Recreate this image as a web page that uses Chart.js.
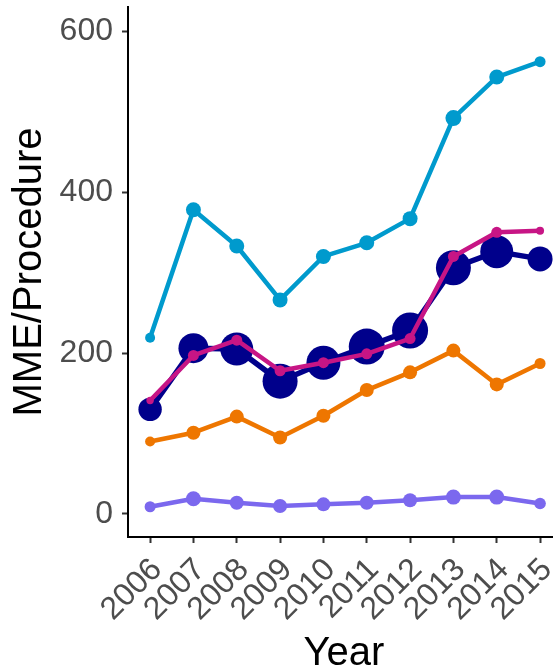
<!DOCTYPE html>
<html>
<head>
<meta charset="utf-8">
<script src="https://cdn.jsdelivr.net/npm/chart.js@4.4.1/dist/chart.umd.min.js"></script>
<style>
  html, body { margin: 0; padding: 0; background: #ffffff; }
  #wrap { width: 553px; height: 669px; position: relative; }
</style>
</head>
<body>
<div id="wrap"><canvas id="chart"></canvas></div>
<script>
// Categories and tick labels
const years = ['2006', '2007', '2008', '2009', '2010', '2011', '2012', '2013', '2014', '2015'];
const yTicks = [0, 200, 400, 600];

// MME per procedure, one array per series
const tealValues    = [219, 378, 333, 266, 320, 337, 367, 492, 543, 562];
const magentaValues = [141, 197, 216, 178, 188, 199, 218, 320, 350, 352];
const navyValues    = [130, 206, 205, 165, 188, 208, 228, 306, 326, 317];
const orangeValues  = [90, 101, 121, 95, 122, 154, 176, 203, 161, 187];
const purpleValues  = [9, 19, 14, 10, 12, 14, 17, 21, 21, 13];

const FONT = "'Liberation Sans', Arial, sans-serif";

function toPoints(values) {
  return values.map((v, i) => ({ x: i, y: v }));
}

function lineSeries(label, values, color, width, radii) {
  return {
    label: label,
    data: toPoints(values),
    borderColor: color,
    backgroundColor: color,
    borderWidth: width,
    borderJoinStyle: 'round',
    borderCapStyle: 'round',
    pointBackgroundColor: color,
    pointBorderWidth: 0,
    pointRadius: radii,
    pointHoverRadius: radii,
    tension: 0,
    fill: false
  };
}

// Labels may overhang the plot edges; keep the plot box fixed.
function clearPadding(scale) {
  scale.paddingTop = 0;
  scale.paddingBottom = 0;
  scale.paddingLeft = 0;
  scale.paddingRight = 0;
}

// Panel box: starts 7px below the top and runs a few pixels past the right edge.
const PANEL_TOP = 7;
const PANEL_OVERHANG = 7;
const panelExtend = {
  id: 'panelExtend',
  afterLayout(chart) {
    const area = chart.chartArea;
    const xs = chart.scales.x;
    const ys = chart.scales.y;
    area.right = chart.width + PANEL_OVERHANG;
    area.width = area.right - area.left;
    area.top = PANEL_TOP;
    area.height = area.bottom - area.top;
    xs.right = area.right;
    xs.width = xs.right - xs.left;
    xs.configure();
    ys.top = area.top;
    ys.height = ys.bottom - ys.top;
    ys.configure();
  }
};

const axisGrid = {
  display: true,
  drawOnChartArea: false,
  drawTicks: true,
  tickLength: 6,
  tickWidth: 2,
  tickColor: '#333333'
};
const axisBorder = { display: true, color: '#000000', width: 2 };

new Chart(document.getElementById('chart'), {
  type: 'line',
  plugins: [panelExtend],
  data: {
    datasets: [
      lineSeries('Magenta', magentaValues, '#C71585', 4.5, [3.7, 5.5, 5.5, 5.5, 5.5, 5.5, 5.5, 5.5, 5.5, 4]),
      lineSeries('Navy', navyValues, '#00008B', 5.5, [11.7, 15, 16.5, 17.5, 17, 18, 18, 17.5, 16.5, 12.5]),
      lineSeries('Teal', tealValues, '#009ACD', 4.5, [5, 7.5, 7.5, 7.5, 7.5, 7.5, 7.5, 8, 7.5, 5.5]),
      lineSeries('Orange', orangeValues, '#EE7600', 4.5, [5, 7, 7, 7, 7, 7, 7, 7, 7, 5.5]),
      lineSeries('Purple', purpleValues, '#7B68EE', 4.5, [5.5, 7.5, 7, 7, 7, 7, 7, 7.5, 7.5, 5.8])
    ]
  },
  options: {
    responsive: true,
    maintainAspectRatio: false,
    animation: false,
    events: [],
    layout: { padding: { top: 7, right: 0, bottom: 0, left: 0 } },
    plugins: {
      legend: { display: false },
      tooltip: { enabled: false },
      title: { display: false }
    },
    scales: {
      x: {
        type: 'linear',
        min: -0.51,
        max: 9.46,
        afterBuildTicks: (scale) => { scale.ticks = years.map((_, i) => ({ value: i })); },
        afterFit: (scale) => { scale.height = 132; clearPadding(scale); },
        ticks: {
          autoSkip: false,
          minRotation: 45,
          maxRotation: 45,
          color: '#4D4D4D',
          font: { family: FONT, size: 32 },
          padding: 8,
          labelOffset: 7,
          callback: (value, index) => years[index]
        },
        grid: axisGrid,
        border: axisBorder,
        title: {
          display: true,
          text: 'Year',
          color: '#000000',
          font: { family: FONT, size: 40, lineHeight: 0.75 },
          padding: 0
        }
      },
      y: {
        type: 'linear',
        min: -28.6,
        max: 630,
        afterBuildTicks: (scale) => { scale.ticks = yTicks.map(v => ({ value: v })); },
        afterFit: (scale) => { scale.width = 128; clearPadding(scale); },
        ticks: {
          color: '#4D4D4D',
          font: { family: FONT, size: 32 },
          padding: 9,
          callback: (value) => String(value)
        },
        grid: axisGrid,
        border: axisBorder,
        title: {
          display: true,
          text: 'MME/Procedure',
          color: '#000000',
          font: { family: FONT, size: 40 },
          padding: { top: 6, bottom: 0 }
        }
      }
    }
  }
});
</script>
</body>
</html>
